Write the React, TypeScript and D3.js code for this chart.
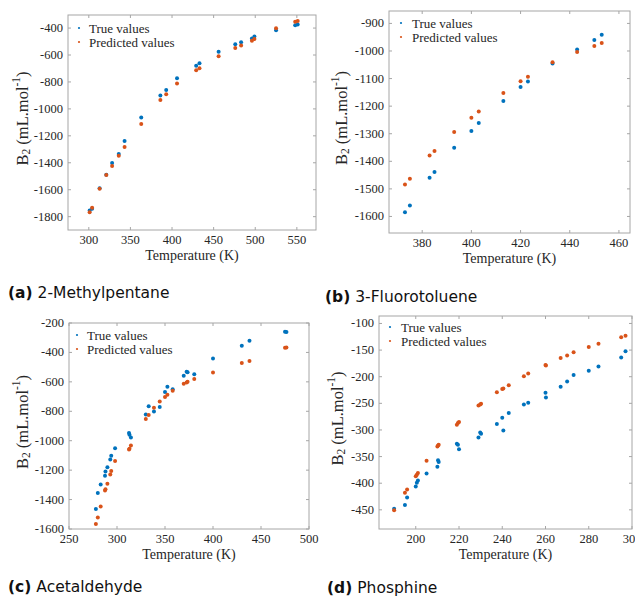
import * as d3 from "d3"

// (a) 2-Methylpentane
const tempA = [301, 304, 313, 321, 328, 336, 343, 363, 386, 393, 406, 429, 433, 456, 476, 483, 496, 499, 525, 548, 551]
const trueA = [-1755, -1742, -1590, -1489, -1402, -1335, -1238, -1063, -900, -860, -773, -680, -662, -576, -521, -506, -477, -462, -417, -380, -373]
const predA = [-1768, -1733, -1592, -1491, -1424, -1347, -1283, -1112, -934, -892, -811, -714, -699, -610, -548, -529, -494, -482, -402, -353, -348]

// (b) 3-Fluorotoluene
const tempB = [373, 375, 383, 385, 393, 400, 403, 413, 420, 423, 433, 443, 450, 453]
const trueB = [-1585, -1560, -1460, -1439, -1351, -1290, -1261, -1181, -1131, -1111, -1045, -995, -960, -941]
const predB = [-1484, -1463, -1379, -1363, -1294, -1242, -1219, -1152, -1110, -1093, -1041, -1004, -982, -971]

// (c) Acetaldehyde
const tempC = [278, 280, 283, 287.5, 288, 290, 293, 294, 298, 312.5, 313, 314.5, 330, 333, 338.5, 344.5, 350, 352.5, 358, 369.5, 372.5, 373.5, 380.5, 400, 430, 438, 475, 476.5]
const trueC = [-1464, -1356, -1297, -1238, -1209, -1181, -1127, -1102, -1052, -948, -959, -978, -821, -766, -802, -771, -669, -633, -651, -558, -531, -535, -549, -441, -354, -320, -259, -261]
const predC = [-1566, -1521, -1447, -1338, -1330, -1292, -1229, -1206, -1138, -1059, -1055, -1032, -853, -825, -776, -733, -703, -687, -660, -613, -604, -600, -581, -536, -472, -458, -368, -366]

// (d) Phosphine
const tempD = [190, 195, 196, 200, 200.5, 201, 205, 210, 210.3, 210.6, 219, 219.5, 220, 229, 229.8, 230.2, 237.5, 240, 240.5, 243, 250, 252, 260, 260.2, 267, 270, 273, 280, 284.5, 295, 297]
const trueD = [-448, -441, -427, -406, -399, -395, -382, -369, -357, -360, -326, -328, -336, -314, -305, -307, -289, -277, -301, -268, -252, -249, -230, -239, -219, -209, -197, -189, -181, -164, -152]
const predD = [-451, -418, -412, -387, -384, -381, -358, -331, -329, -328, -290, -287, -285, -254, -252, -251, -229, -223, -222, -216, -199, -194, -178, -179, -165, -160, -154, -144, -138, -126, -123]

const xTicksA = [300, 350, 400, 450, 500, 550]
const yTicksA = [-400, -600, -800, -1000, -1200, -1400, -1600, -1800]
const xTicksB = [380, 400, 420, 440, 460]
const yTicksB = [-900, -1000, -1100, -1200, -1300, -1400, -1500, -1600]
const xTicksC = [250, 300, 350, 400, 450, 500]
const yTicksC = [-200, -400, -600, -800, -1000, -1200, -1400, -1600]
const xTicksD = [200, 220, 240, 260, 280, 300]
const yTicksD = [-100, -150, -200, -250, -300, -350, -400, -450]

const BLUE = "#0072bd"
const ORANGE = "#d95319"
const FRAME = "#a6a6a6"
const TEXT = "#262626"
const SERIF = "'Liberation Serif', 'Times New Roman', serif"
const SANS = "'DejaVu Sans', sans-serif"

function Panel(props) {
  const { box, xDomain, yDomain, xTicks, yTicks, temps, trueVals, predVals, legend, yTitleX } = props
  const x = d3.scaleLinear().domain(xDomain).range([box.x0, box.x1])
  const y = d3.scaleLinear().domain(yDomain).range([box.y1, box.y0])
  const tick = 3
  const midY = (box.y0 + box.y1) / 2 - 4
  const midX = (box.x0 + box.x1) / 2

  return (
    <g fontFamily={SERIF} fill={TEXT}>
      <rect x={box.x0} y={box.y0} width={box.x1 - box.x0} height={box.y1 - box.y0} fill="white" stroke={FRAME} strokeWidth={1} />
      {xTicks.map((t) => (
        <g key={"x" + t}>
          <line x1={x(t)} x2={x(t)} y1={box.y1} y2={box.y1 - tick} stroke={FRAME} />
          <line x1={x(t)} x2={x(t)} y1={box.y0} y2={box.y0 + tick} stroke={FRAME} />
          <text x={x(t)} y={box.y1 + 14} fontSize={12.5} textAnchor="middle">{t}</text>
        </g>
      ))}
      {yTicks.map((t) => (
        <g key={"y" + t}>
          <line x1={box.x0} x2={box.x0 + tick} y1={y(t)} y2={y(t)} stroke={FRAME} />
          <line x1={box.x1} x2={box.x1 - tick} y1={y(t)} y2={y(t)} stroke={FRAME} />
          <text x={box.x0 - 5} y={y(t)} fontSize={12.5} textAnchor="end" dominantBaseline="central">{t}</text>
        </g>
      ))}
      <text x={midX} y={box.y1 + 30} fontSize={14} textAnchor="middle">Temperature (K)</text>
      <text transform={`translate(${yTitleX},${midY}) rotate(-90)`} fontSize={16.5} textAnchor="middle" dominantBaseline="central">
        B<tspan dy={4} fontSize={11.5}>2</tspan>
        <tspan dy={-4}> (mL.mol</tspan>
        <tspan dy={-6} fontSize={11.5}>-1</tspan>
        <tspan dy={6}>)</tspan>
      </text>
      {temps.map((t, i) => (
        <circle key={"t" + i} cx={x(t)} cy={y(trueVals[i])} r={2} fill={BLUE} />
      ))}
      {temps.map((t, i) => (
        <circle key={"p" + i} cx={x(t)} cy={y(predVals[i])} r={2} fill={ORANGE} />
      ))}
      <circle cx={box.x0 + legend.mx} cy={box.y0 + legend.my} r={1.1} fill={BLUE} />
      <text x={box.x0 + legend.tx} y={box.y0 + legend.my} fontSize={13} dominantBaseline="central">True values</text>
      <circle cx={box.x0 + legend.mx} cy={box.y0 + legend.my + 14} r={1.1} fill={ORANGE} />
      <text x={box.x0 + legend.tx} y={box.y0 + legend.my + 14} fontSize={13} dominantBaseline="central">Predicted values</text>
    </g>
  )
}

function Caption({ x, y, tag, name }) {
  return (
    <text x={x} y={y} fontFamily={SANS} fontSize={15.5} fill="#111">
      <tspan fontWeight="bold">({tag})</tspan> {name}
    </text>
  )
}

export default function App() {
  return (
    <svg width={635} height={597} style={{ position: "absolute", left: 0, top: 0, background: "white" }}>
      <Panel
        box={{ x0: 68, x1: 316, y0: 15, y1: 230 }}
        xDomain={[275, 573]}
        yDomain={[-1899, -303]}
        xTicks={xTicksA}
        yTicks={yTicksA}
        temps={tempA}
        trueVals={trueA}
        predVals={predA}
        legend={{ mx: 11, my: 13, tx: 21 }}
        yTitleX={22}
      />
      <Panel
        box={{ x0: 389, x1: 630, y0: 11, y1: 233 }}
        xDomain={[366.5, 464.5]}
        yDomain={[-1660, -855]}
        xTicks={xTicksB}
        yTicks={yTicksB}
        temps={tempB}
        trueVals={trueB}
        predVals={predB}
        legend={{ mx: 12, my: 12, tx: 23 }}
        yTitleX={341}
      />
      <Panel
        box={{ x0: 69, x1: 309, y0: 323, y1: 529 }}
        xDomain={[250, 500]}
        yDomain={[-1600, -200]}
        xTicks={xTicksC}
        yTicks={yTicksC}
        temps={tempC}
        trueVals={trueC}
        predVals={predC}
        legend={{ mx: 8, my: 12, tx: 18 }}
        yTitleX={22}
      />
      <Panel
        box={{ x0: 379, x1: 632, y0: 316, y1: 529 }}
        xDomain={[183, 300]}
        yDomain={[-486, -86]}
        xTicks={xTicksD}
        yTicks={yTicksD}
        temps={tempD}
        trueVals={trueD}
        predVals={predD}
        legend={{ mx: 11, my: 11, tx: 22 }}
        yTitleX={337}
      />
      <Caption x={8} y={298} tag="a" name="2-Methylpentane" />
      <Caption x={325} y={302} tag="b" name="3-Fluorotoluene" />
      <Caption x={8} y={592} tag="c" name="Acetaldehyde" />
      <Caption x={327} y={593} tag="d" name="Phosphine" />
    </svg>
  )
}
